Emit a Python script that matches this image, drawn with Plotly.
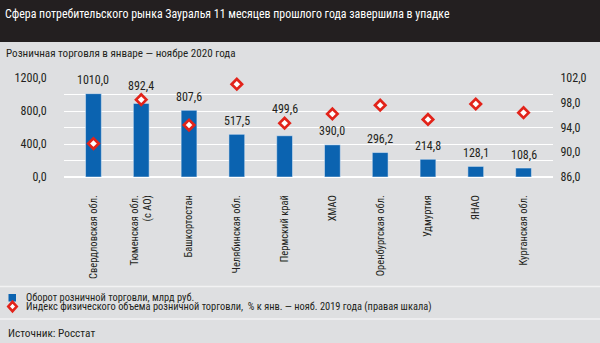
import plotly.graph_objects as go

regions = ["Свердловская обл.", "Тюменская обл.<br>(с АО)", "Башкортостан", "Челябинская обл.",
           "Пермский край", "ХМАО", "Оренбургская обл.", "Удмуртия", "ЯНАО", "Курганская обл."]
turnover = [1010.0, 892.4, 807.6, 517.5, 499.6, 390.0, 296.2, 214.8, 128.1, 108.6]
index_pct = [91.4, 98.5, 94.4, 101.0, 94.7, 96.2, 97.6, 95.3, 97.8, 96.4]

left_ticks = [0, 200, 400, 600, 800, 1000, 1200]
left_labels = ["0,0", "", "400,0", "", "800,0", "", "1200,0"]
right_ticks = [86, 90, 94, 98, 102]
right_labels = ["86,0", "90,0", "94,0", "98,0", "102,0"]

title = "Сфера потребительского рынка Зауралья 11 месяцев прошлого года завершила в упадке"
subtitle = "Розничная торговля в январе — ноябре 2020 года"
legend1 = "Оборот розничной торговли, млрд руб."
legend2 = "Индекс физического объема розничной торговли,  % к янв. — нояб. 2019 года (правая шкала)"
source = "Источник: Росстат"

FONT = "Roboto Condensed, DejaVu Sans Condensed, sans-serif"
BG = "#dedfe1"
DARK = "#231f20"
BLUE = "#0b63b0"
RED = "#e2231a"

W, H = 600, 343
L, R, T, B = 64, 47, 78, 166
ph = H - T - B
Y1 = (0, 1200)
Y2 = (86, 102)


def py(y):
    return (H - B - y) / ph


def px(x):
    return (x - L) / (W - L - R)


fig = go.Figure()
fig.add_trace(go.Bar(
    x=regions, y=turnover, marker_color=BLUE, width=0.33,
    cliponaxis=False, showlegend=False, yaxis="y"))
fig.add_trace(go.Scatter(
    x=regions, y=index_pct, mode="markers", yaxis="y2",
    marker=dict(symbol="diamond", size=8, color="white", line=dict(color=RED, width=2.7)),
    cliponaxis=False, showlegend=False))

shapes = [
    dict(type="rect", xref="paper", yref="paper", x0=px(0), x1=px(W), y0=py(42), y1=py(0),
         fillcolor="#231f20", line_width=0, layer="below"),
    dict(type="line", xref="paper", yref="paper", x0=px(0), x1=px(W), y0=py(286.5), y1=py(286.5),
         line=dict(color="#f2f2f3", width=1.5)),
    dict(type="line", xref="paper", yref="paper", x0=px(0), x1=px(W), y0=py(319), y1=py(319),
         line=dict(color="#f2f2f3", width=1.5)),
    dict(type="rect", xref="paper", yref="paper", x0=px(8.5), x1=px(16), y0=py(301.5), y1=py(294),
         fillcolor=BLUE, line_width=0),
    dict(type="path", xref="paper", yref="paper",
         path=f"M {px(12.5)} {py(301.8)} L {px(16.7)} {py(306.5)} L {px(12.5)} {py(311.2)} L {px(8.3)} {py(306.5)} Z",
         fillcolor="white", line=dict(color=RED, width=2.6)),
]

# value labels above bars; lifted above the diamond when they would collide with it
annotations = []
for c, v, d in zip(regions, turnover, index_pct):
    bar_px = v / (Y1[1] - Y1[0]) * ph           # height of bar top above baseline, px
    dia_px = (d - Y2[0]) / (Y2[1] - Y2[0]) * ph  # height of diamond above baseline, px
    shift = 13.5
    label_mid = bar_px + shift
    if abs(label_mid - dia_px) < 10.5:
        shift = dia_px + 14 - bar_px
    annotations.append(dict(text=f"{v:.1f}".replace(".", ","), x=c, y=v, xref="x", yref="y",
                            yanchor="middle", xanchor="center", yshift=shift, showarrow=False,
                            font=dict(size=12, color=DARK, family=FONT)))

annotations += [
    dict(text=title, xref="paper", yref="paper", x=px(3), y=py(14), xanchor="left", yanchor="middle",
         showarrow=False, font=dict(size=11.9, color="white", family=FONT)),
    dict(text=subtitle, xref="paper", yref="paper", x=px(4), y=py(53.5), xanchor="left", yanchor="middle",
         showarrow=False, font=dict(size=11.1, color=DARK, family=FONT)),
    dict(text=legend1, xref="paper", yref="paper", x=px(24), y=py(297.7), xanchor="left", yanchor="middle",
         showarrow=False, font=dict(size=10.4, color=DARK, family=FONT)),
    dict(text=legend2, xref="paper", yref="paper", x=px(24), y=py(306.5), xanchor="left", yanchor="middle",
         showarrow=False, font=dict(size=10.4, color=DARK, family=FONT)),
    dict(text=source, xref="paper", yref="paper", x=px(6), y=py(333.5), xanchor="left", yanchor="middle",
         showarrow=False, font=dict(size=11.3, color=DARK, family=FONT)),
]

fig.update_layout(
    width=W, height=H, margin=dict(l=L, r=R, t=T, b=B),
    paper_bgcolor=BG, plot_bgcolor=BG,
    font=dict(family=FONT, color=DARK, size=11),
    bargap=0.67,
    xaxis=dict(tickangle=-90, tickfont=dict(size=10.5, color=DARK), showgrid=False,
               ticks="outside", ticklen=13, tickcolor="rgba(0,0,0,0)", showline=False),
    yaxis=dict(range=list(Y1), tickvals=left_ticks, ticktext=left_labels, showgrid=True,
               gridcolor="white", gridwidth=1, zeroline=True, zerolinecolor="white",
               tickfont=dict(size=12, color=DARK), ticks="outside", ticklen=14,
               tickcolor="rgba(0,0,0,0)"),
    yaxis2=dict(range=list(Y2), tickvals=right_ticks, ticktext=right_labels, overlaying="y",
                side="right", showgrid=False, zeroline=False, tickfont=dict(size=12, color=DARK),
                ticks="outside", ticklen=4, tickcolor="rgba(0,0,0,0)"),
    shapes=shapes, annotations=annotations,
)

fig.write_html("out.html")
